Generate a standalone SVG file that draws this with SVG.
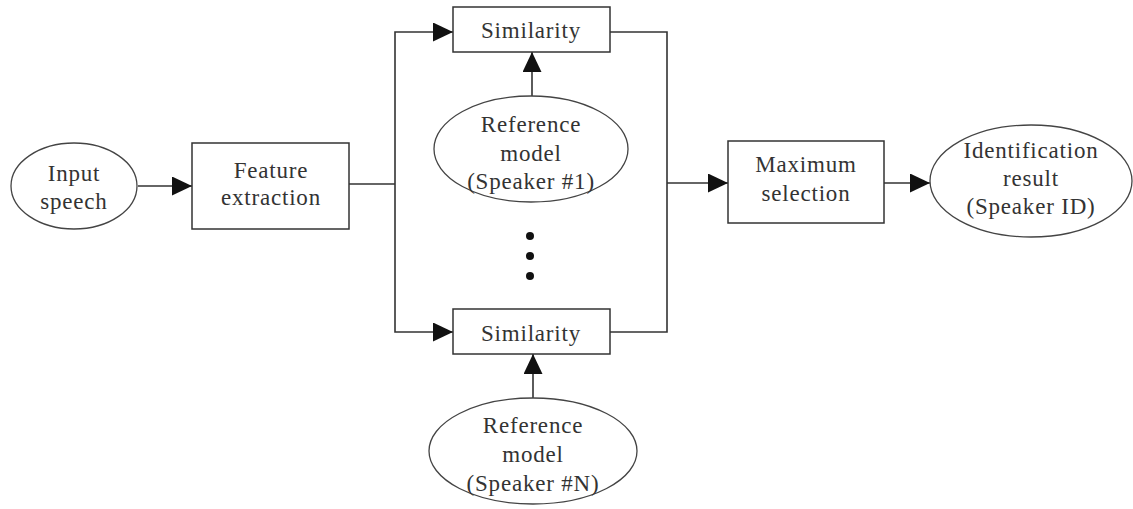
<svg xmlns="http://www.w3.org/2000/svg" width="1133" height="509" viewBox="0 0 1133 509">
<style>
.n{fill:#fff;stroke:#333;stroke-width:1.5}
.e{fill:#fff;stroke:#444;stroke-width:1.3}
.c{fill:none;stroke:#333;stroke-width:1.6}
text{font-family:"Liberation Serif","Times New Roman",serif;font-size:23px;letter-spacing:0.8px;fill:#333;text-anchor:middle}
</style>
<defs>
<marker id="a" markerUnits="userSpaceOnUse" markerWidth="21" markerHeight="19" refX="20" refY="9.5" orient="auto">
<path d="M0,0 L20,9.5 L0,19 Z" fill="#111"/>
</marker>
</defs>
<rect width="1133" height="509" fill="#fff"/>
<g id="connectors">
<line class="c" x1="138" y1="186" x2="192" y2="186" marker-end="url(#a)"/>
<polyline class="c" points="349,184 395,184"/>
<polyline class="c" points="395,184 395,32 453,32" marker-end="url(#a)"/>
<polyline class="c" points="395,184 395,332 453,332" marker-end="url(#a)"/>
<polyline class="c" points="610,32 667,32 667,332 610,332"/>
<line class="c" x1="667" y1="183" x2="728" y2="183" marker-end="url(#a)"/>
<line class="c" x1="884" y1="183" x2="930" y2="183" marker-end="url(#a)"/>
<line class="c" x1="532" y1="96" x2="532" y2="52" marker-end="url(#a)"/>
<line class="c" x1="533" y1="398" x2="533" y2="354" marker-end="url(#a)"/>
</g>
<g id="input">
<ellipse class="e" cx="74" cy="186" rx="63" ry="43"/>
<text x="74" y="181">Input</text>
<text x="74" y="209">speech</text>
</g>
<g id="feature">
<rect class="n" x="192" y="143" width="157" height="86"/>
<text x="271" y="178">Feature</text>
<text x="271" y="205">extraction</text>
</g>
<g id="sim1">
<rect class="n" x="453" y="7" width="157" height="45"/>
<text x="531" y="38">Similarity</text>
</g>
<g id="ref1">
<ellipse class="e" cx="531" cy="149" rx="97" ry="53"/>
<text x="531" y="132">Reference</text>
<text x="531" y="161">model</text>
<text x="531" y="189">(Speaker #1)</text>
</g>
<g id="dots" fill="#111">
<circle cx="530" cy="236" r="4"/>
<circle cx="530" cy="256" r="4"/>
<circle cx="530" cy="276" r="4"/>
</g>
<g id="simN">
<rect class="n" x="453" y="309" width="157" height="45"/>
<text x="531" y="341">Similarity</text>
</g>
<g id="refN">
<ellipse class="e" cx="533" cy="451" rx="104" ry="53"/>
<text x="533" y="433">Reference</text>
<text x="533" y="462">model</text>
<text x="533" y="491">(Speaker #N)</text>
</g>
<g id="max">
<rect class="n" x="728" y="141" width="156" height="82"/>
<text x="806" y="172">Maximum</text>
<text x="806" y="201">selection</text>
</g>
<g id="result">
<ellipse class="e" cx="1031" cy="181" rx="101" ry="56"/>
<text x="1031" y="158">Identification</text>
<text x="1031" y="186">result</text>
<text x="1031" y="214">(Speaker ID)</text>
</g>
</svg>
